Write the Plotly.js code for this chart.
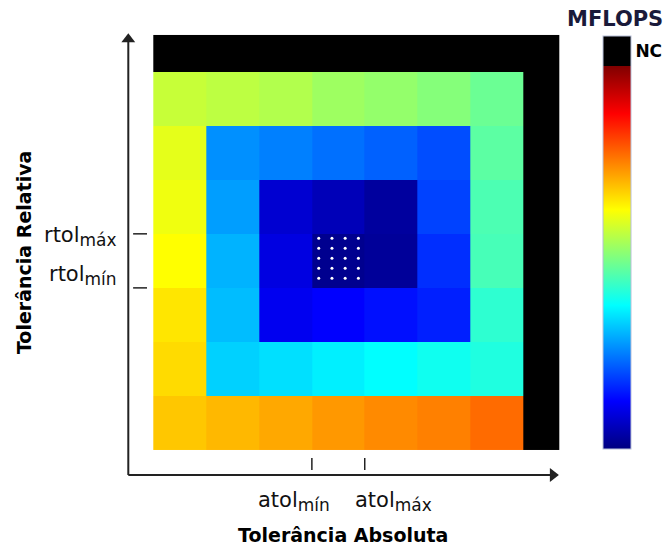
<!DOCTYPE html>
<html>
<head>
<meta charset="utf-8">
<script src="https://cdn.plot.ly/plotly-3.0.1.min.js"></script>
<style>html,body{margin:0;padding:0;background:#fff;}#chart{width:665px;height:547px;}</style>
</head>
<body>
<div id="chart"></div>
<script>
// ---- data ----
// cell edges along each tolerance axis (last band = not converged)
const atolEdges = [0, 1, 2, 3, 4, 5, 6, 7, 7.68];
const rtolEdges = [0, 1, 2, 3, 4, 5, 6, 7, 7.68];
// MFLOPS values, rows listed from the bottom row to the top row
const NC = 107.8;  // "não convergiu" marker value
const row1 = [68, 69.5, 71, 72.6, 74, 75, 77, NC];
const row2 = [66, 33, 34.5, 36, 37.5, 39, 40.5, NC];
const row3 = [65, 31, 11, 12.5, 14, 15.5, 42, NC];
const row4 = [62.5, 30, 9.5, 1.5, 2.5, 17, 44.5, NC];
const row5 = [61, 28, 8, 5.5, 3, 19, 45, NC];
const row6 = [60, 26.6, 25, 23.5, 22, 20, 46.5, NC];
const row7 = [57, 56, 55, 53, 52, 50.5, 48, NC];
const row8 = [NC, NC, NC, NC, NC, NC, NC, NC];
const mflops = [row1, row2, row3, row4, row5, row6, row7, row8];
// ticks
const atolTickVals = [3, 4];
const atolTickMain = ['atol', 'atol'];
const atolTickSub = ['mín', 'máx'];
const rtolTickVals = [4, 3];
const rtolTickMain = ['rtol', 'rtol'];
const rtolTickSub = ['máx', 'mín'];
// optimum cell (column index, row index from bottom)
const bestCell = [3, 3];

// ---- style ----
const jetTop = 100 / NC;
const jet = [
  [0, '#000080'], [0.125 * jetTop, '#0000ff'], [0.375 * jetTop, '#00ffff'],
  [0.625 * jetTop, '#ffff00'], [0.875 * jetTop, '#ff0000'], [jetTop, '#800000'],
  [jetTop + 0.0005, '#000000'], [1, '#000000']
];

const heat = {
  type: 'heatmap',
  x: atolEdges, y: rtolEdges, z: mflops,
  zmin: 0, zmax: NC, zsmooth: false,
  colorscale: jet,
  hoverinfo: 'skip',
  colorbar: {
    x: 1.0851, xanchor: 'left', xpad: 0,
    y: 0.5246, yanchor: 'middle', ypad: 0,
    len: 413, lenmode: 'pixels',
    thickness: 28, thicknessmode: 'pixels',
    outlinewidth: 1, outlinecolor: '#b8c0d8',
    tickvals: [(100 + NC) / 2], ticktext: ['NC'],
    ticks: '', ticklen: 0,
    tickfont: {family: 'DejaVu Sans', size: 17, color: '#000', weight: 'bold'}
  }
};

// dotted pattern on optimum cell
const dotX = [], dotY = [];
const nxd = 4, nyd = 5;
for (let i = 0; i < nxd; i++) {
  for (let j = 0; j < nyd; j++) {
    dotX.push(atolEdges[bestCell[0]] + 0.13 + i * 0.25);
    dotY.push(rtolEdges[bestCell[1] + 1] - 0.083 - j * 0.185);
  }
}
const dots = {
  type: 'scatter', mode: 'markers', x: dotX, y: dotY,
  marker: {color: '#ffffff', size: 3}, hoverinfo: 'skip', showlegend: false
};

const axisColor = '#222';
const ax0 = -0.473, ay0 = -0.463, axTop = 7.60, axRight = 7.56;
const heads = {
  type: 'scatter', mode: 'markers', cliponaxis: false,
  x: [ax0, axRight], y: [axTop, ay0],
  marker: {symbol: ['triangle-up', 'triangle-right'], size: 12, color: axisColor, line: {width: 0}},
  hoverinfo: 'skip', showlegend: false
};

const shapes = [
  {type: 'line', xref: 'x', yref: 'y', x0: ax0, x1: ax0, y0: ay0, y1: axTop, line: {color: axisColor, width: 2}},
  {type: 'line', xref: 'x', yref: 'y', x0: ax0, x1: axRight, y0: ay0, y1: ay0, line: {color: axisColor, width: 2}}
];
atolTickVals.forEach(v => shapes.push({type: 'line', xref: 'x', yref: 'y', x0: v, x1: v, y0: -0.148, y1: -0.37, line: {color: axisColor, width: 1.5}}));
rtolTickVals.forEach(v => shapes.push({type: 'line', xref: 'x', yref: 'y', x0: -0.382, x1: -0.119, y0: v, y1: v, line: {color: axisColor, width: 1.5}}));

const tickFont = {family: 'DejaVu Sans', size: 21, color: '#111'};
const lbl = (m, s) => m + '<sub><span style="font-size:17px">' + s + '</span></sub>';
const xLabelShift = [-18, 29];
const yLabelShift = [-3, 12];
const annotations = [];
atolTickVals.forEach((v, i) => annotations.push({
  xref: 'x', yref: 'paper', x: v, y: -0.0559, xshift: xLabelShift[i],
  xanchor: 'center', yanchor: 'middle', text: lbl(atolTickMain[i], atolTickSub[i]), showarrow: false, font: tickFont
}));
rtolTickVals.forEach((v, i) => annotations.push({
  xref: 'paper', yref: 'y', x: (119 - 115) / 450, y: v, yshift: yLabelShift[i],
  xanchor: 'right', yanchor: 'middle', text: lbl(rtolTickMain[i], rtolTickSub[i]), showarrow: false, font: tickFont
}));
// titles
const titleFont = {family: 'DejaVu Sans', size: 19, color: '#000', weight: 'bold'};
annotations.push({xref: 'paper', yref: 'paper', x: 0.5073, y: -0.1298, xanchor: 'center', yanchor: 'middle',
  text: 'Tolerância Absoluta', showarrow: false, font: titleFont});
annotations.push({xref: 'paper', yref: 'paper', x: -0.2022, y: 0.501, xanchor: 'center', yanchor: 'middle',
  text: 'Tolerância Relativa', textangle: -90, showarrow: false, font: titleFont});
annotations.push({xref: 'paper', yref: 'paper', x: 1.111, y: 1.0246, xanchor: 'center', yanchor: 'middle',
  text: 'MFLOPS', showarrow: false, font: {family: 'DejaVu Sans', size: 21, color: '#1a1a3a', weight: 'bold'}});

const layout = {
  width: 665, height: 547,
  margin: {l: 115, r: 100, t: 30, b: 70, autoexpand: false},
  paper_bgcolor: '#fff', plot_bgcolor: '#fff',
  showlegend: false,
  xaxis: {range: [-0.7246, 7.789], visible: false, fixedrange: true},
  yaxis: {range: [-0.4996, 7.772], visible: false, fixedrange: true},
  shapes: shapes,
  annotations: annotations
};

Plotly.newPlot('chart', [heat, dots, heads], layout, {displayModeBar: false, staticPlot: true});
</script>
</body>
</html>
